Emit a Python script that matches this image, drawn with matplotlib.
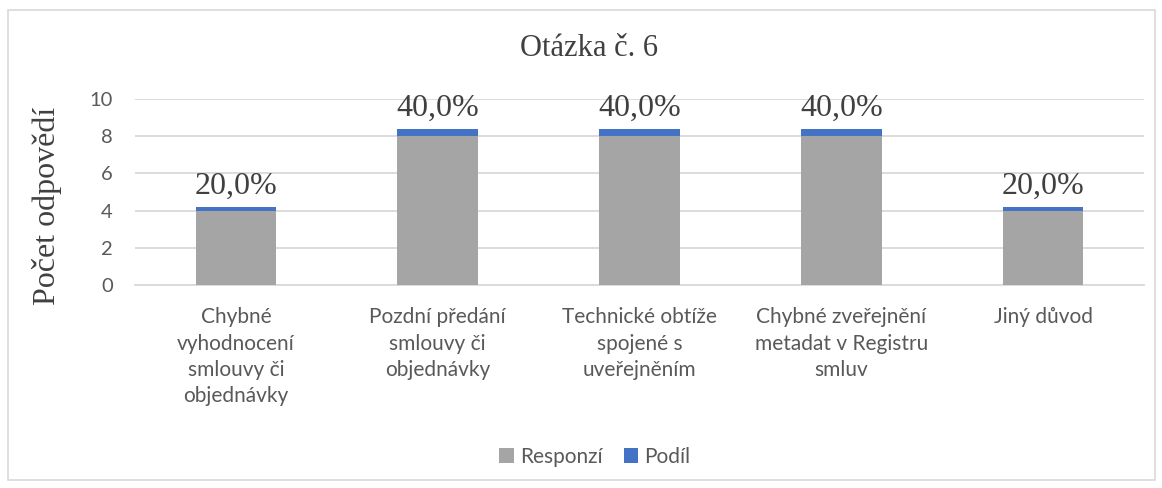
import matplotlib
matplotlib.use("Agg")
import matplotlib.pyplot as plt
from matplotlib.patches import Rectangle

categories = ["Chybné\nvyhodnocení\nsmlouvy či\nobjednávky",
              "Pozdní předání\nsmlouvy či\nobjednávky",
              "Technické obtíže\nspojené s\nuveřejněním",
              "Chybné zveřejnění\nmetadat v Registru\nsmluv",
              "Jiný důvod"]
responzi = [4, 8, 8, 8, 4]
podil = [0.2, 0.4, 0.4, 0.4, 0.2]
yticks = [0, 2, 4, 6, 8, 10]

sans = "Lato"
serif = "Liberation Serif"

W, H = 1162, 488
fig = plt.figure(figsize=(W/100, H/100), dpi=100)
ax = fig.add_axes([135/W, 1-285/H, (1144-135)/W, (285-99)/H])

x = list(range(len(categories)))
grey = "#A5A5A5"
blue = "#4472C4"
ax.bar(x, responzi, width=0.4, color=grey, label="Responzí", zorder=3)
ax.bar(x, podil, width=0.4, bottom=responzi, color=blue, label="Podíl", zorder=3)

for xi, r, p in zip(x, responzi, podil):
    ax.annotate(f"{p*100:.1f}%".replace(".", ","), (xi, r+p), xytext=(0, 4),
                textcoords="offset points", ha="center", va="bottom",
                fontsize=23, family=serif, color="#404040")

ax.set_xlim(-0.5, len(categories)-0.5)
ax.set_ylim(0, 10)
ax.set_yticks(yticks)
ax.set_yticklabels([str(t) for t in yticks], family=sans, fontsize=14.5, color="#595959")
ax.set_xticks(x)
ax.set_xticklabels(categories, family=sans, fontsize=15, color="#595959", linespacing=1.4, va="top")
ax.tick_params(axis="y", length=0, pad=16)
ax.tick_params(axis="x", length=0, pad=16)
ax.yaxis.grid(True, color="#D9D9D9", linewidth=1.3, zorder=0)
for s in ["top", "right", "left"]:
    ax.spines[s].set_visible(False)
ax.spines["bottom"].set_color("#D9D9D9")
ax.spines["bottom"].set_linewidth(1.3)

fig.text(47/W, 1-206/H, "Počet odpovědí", rotation=90, va="center", ha="center",
         family=serif, fontsize=23, color="#404040")
fig.text(589/W, 1-48/H, "Otázka č. 6", ha="center", va="center", family=serif,
         fontsize=22, color="#404040")

leg = fig.legend(loc="center", bbox_to_anchor=(595/W, 1-457/H), ncol=2, frameon=False,
                 prop={"family": sans, "size": 15}, handlelength=0.7, handleheight=0.7,
                 columnspacing=1.0, handletextpad=0.3)
for t in leg.get_texts():
    t.set_color("#595959")

fig.patches.append(Rectangle((8/W, 1-480/H), (1155-8)/W, (480-10)/H, transform=fig.transFigure,
                             fill=False, edgecolor="#D9D9D9", linewidth=1.2))
fig.savefig("out.png", dpi=100, facecolor="white")
